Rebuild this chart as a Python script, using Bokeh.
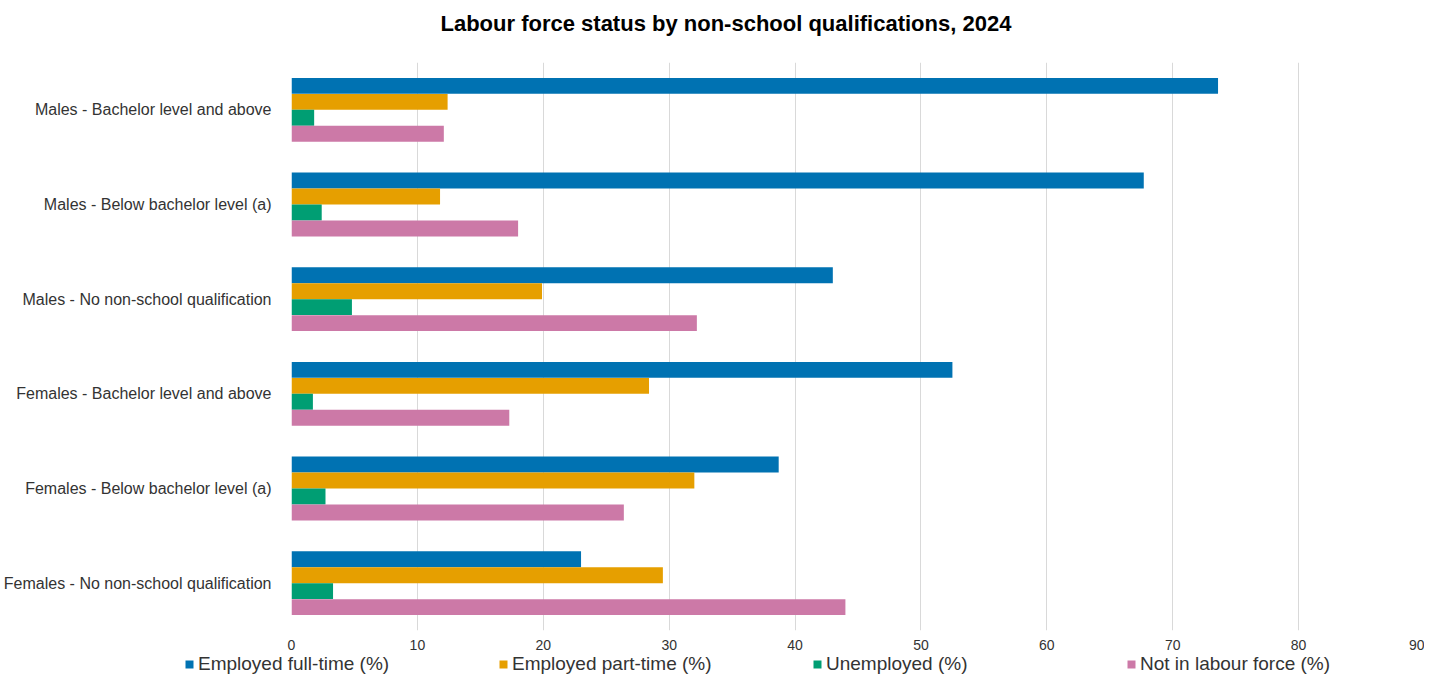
from bokeh.plotting import figure
from bokeh.models import FactorRange, Legend, LegendItem, Range1d, FixedTicker, Title
from bokeh.transform import dodge
from bokeh.embed import file_html
from bokeh.resources import INLINE

categories = [
    "Males - Bachelor level and above",
    "Males - Below bachelor level (a)",
    "Males - No non-school qualification",
    "Females - Bachelor level and above",
    "Females - Below bachelor level (a)",
    "Females - No non-school qualification",
]
full_time = [73.6, 67.7, 43.0, 52.5, 38.7, 23.0]
part_time = [12.4, 11.8, 19.9, 28.4, 32.0, 29.5]
unemployed = [1.8, 2.4, 4.8, 1.7, 2.7, 3.3]
not_in_lf = [12.1, 18.0, 32.2, 17.3, 26.4, 44.0]
series_names = ["Employed full-time (%)", "Employed part-time (%)",
                "Unemployed (%)", "Not in labour force (%)"]
colors = ["#0072B2", "#E69F00", "#009E73", "#CC79A7"]
x_ticks = [0, 10, 20, 30, 40, 50, 60, 70, 80, 90]
title_text = "Labour force status by non-school qualifications, 2024"

FONT = "Liberation Sans"
W = 1424

p = figure(
    width=W, height=652,
    y_range=FactorRange(*list(reversed(categories)), range_padding=0),
    x_range=Range1d(0, 90),
    output_backend="svg", toolbar_location=None,
    min_border_left=290, min_border_right=0, min_border_top=62, min_border_bottom=21,
)
p.outline_line_color = None

# spacer (closest to the frame), then the real title above it
p.add_layout(Title(text=" ", text_font=FONT, text_font_size="22px", standoff=0), "above")
p.add_layout(Title(text=title_text, text_font=FONT, text_font_size="22px",
                   text_font_style="bold", text_color="#000000",
                   align="left", offset=149, standoff=0), "above")

data = dict(cat=categories, ft=full_time, pt=part_time, un=unemployed, nl=not_in_lf)
offsets = [0.253, 0.084, -0.084, -0.253]
fields = ["ft", "pt", "un", "nl"]
for f, off, c in zip(fields, offsets, colors):
    p.hbar(y=dodge("cat", off, range=p.y_range), right=f, left=0,
           height=0.168, source=data, color=c, line_color=None)

p.xaxis.ticker = FixedTicker(ticks=x_ticks)
p.xaxis.axis_line_color = None
p.xaxis.major_tick_line_color = None
p.xaxis.minor_tick_line_color = None
p.xaxis.major_label_text_font = FONT
p.xaxis.major_label_text_font_size = "14px"
p.xaxis.major_label_text_color = "#333333"
p.xaxis.major_label_standoff = 3

p.yaxis.axis_line_color = None
p.yaxis.major_tick_line_color = None
p.yaxis.minor_tick_line_color = None
p.yaxis.major_label_text_font = FONT
p.yaxis.major_label_text_font_size = "16px"
p.yaxis.major_label_text_color = "#333333"
p.yaxis.major_label_standoff = 14

p.ygrid.grid_line_color = None
p.xgrid.grid_line_color = "#d9d9d9"
p.xgrid.grid_line_width = 1

# legend strip (separate root so its frame is not aligned with the chart's frame)
lg = figure(width=W, height=23, x_range=Range1d(0, 1), y_range=Range1d(0, 1),
            output_backend="svg", toolbar_location=None,
            x_axis_type=None, y_axis_type=None,
            min_border_left=0, min_border_right=0, min_border_top=0, min_border_bottom=0)
lg.outline_line_color = None
lg.grid.grid_line_color = None
items = []
for n, c in zip(series_names, colors):
    r = lg.hbar(y=[0.5], right=[0], left=[0], height=0, color=c, line_color=None)
    items.append(LegendItem(label=n, renderers=[r]))

legend = Legend(
    items=items,
    orientation="horizontal",
    location=(184, 0),
    glyph_width=10, glyph_height=10,
    label_standoff=4, label_width=300, label_height=20, spacing=0,
    label_text_font=FONT, label_text_font_size="19px", label_text_color="#333333",
    padding=0, margin=0, border_line_color=None, background_fill_alpha=0,
)
lg.add_layout(legend, "center")

open("out.html", "w").write(file_html([p, lg], INLINE))
